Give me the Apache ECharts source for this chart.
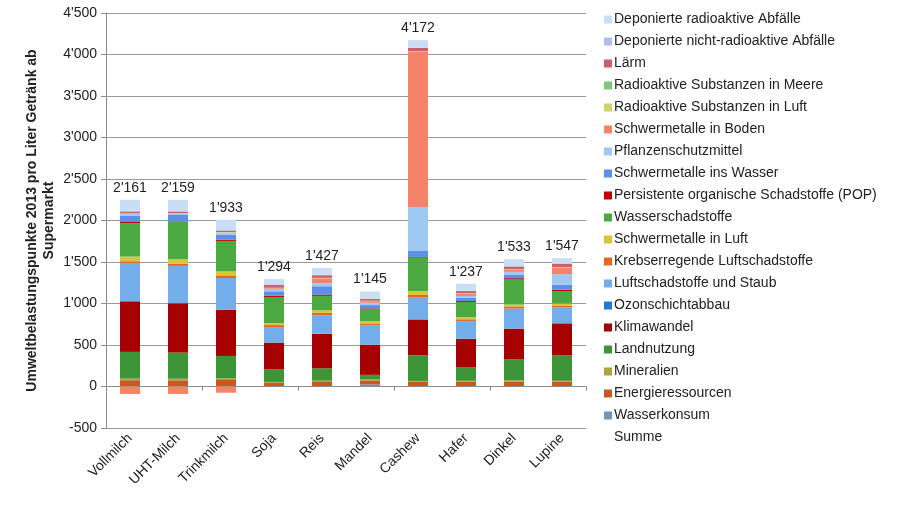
<!DOCTYPE html>
<html><head><meta charset="utf-8">
<script src="https://cdn.jsdelivr.net/npm/echarts@6/dist/echarts.min.js"></script>
<style>html,body{margin:0;padding:0;background:#fff}#c{width:900px;height:514px}</style>
</head><body><div id="c"></div>
<script>
var categories = ['Vollmilch','UHT-Milch','Trinkmilch','Soja','Reis','Mandel','Cashew','Hafer','Dinkel','Lupine'];
var yTicks = [-500,0,500,1000,1500,2000,2500,3000,3500,4000,4500];
// values (Umweltbelastungspunkte), stacked bottom -> top
var wasserkonsum   = [5,5,5,5,5,24,5,5,5,5];
var energie        = [70,69,73,40,50,48,52,52,56,56];
var mineralien     = [20,20,20,10,15,12,10,12,12,8];
var landnutzung    = [322,315,270,150,149,56,310,160,257,305];
var klimawandel    = [609,593,557,323,415,363,430,345,366,386];
var ozon           = [3,3,3,3,3,3,3,3,3,3];
var luftStaub      = [460,448,379,185,222,230,261,213,241,189];
var krebs          = [20,28,32,24,28,24,32,20,24,24];
var schwLuft       = [57,52,48,24,32,28,48,24,24,24];
var wasserSchad    = [400,448,367,315,173,141,402,185,301,145];
var pop            = [16,8,16,16,16,12,8,12,16,20];
var schwWasser     = [73,77,60,52,100,40,72,40,44,60];
var pflanzen       = [24,16,24,28,36,28,530,20,32,129];
var schwBoden      = [-90,-90,-75,10,60,20,1871,30,28,80];
var radLuft        = [5,5,5,3,3,3,3,3,3,3];
var radMeere       = [2,2,2,2,2,2,2,2,2,2];
var laerm          = [16,16,16,32,32,20,40,24,32,40];
var depNicht       = [16,16,16,10,5,5,5,5,5,5];
var depRadio       = [133,128,115,62,81,86,88,82,82,63];
var summe          = [2161,2159,1933,1294,1427,1145,4172,1237,1533,1547];

var seriesDefs = [
  ['Wasserkonsum', wasserkonsum, '#7193b4'],
  ['Energieressourcen', energie, '#c9581e'],
  ['Mineralien', mineralien, '#a7a53c'],
  ['Landnutzung', landnutzung, '#3d9538'],
  ['Klimawandel', klimawandel, '#a60000'],
  ['Ozonschichtabbau', ozon, '#1f78d8'],
  ['Luftschadstoffe und Staub', luftStaub, '#73aeea'],
  ['Krebserregende Luftschadstoffe', krebs, '#e8671e'],
  ['Schwermetalle in Luft', schwLuft, '#d6c63c'],
  ['Wasserschadstoffe', wasserSchad, '#4aa940'],
  ['Persistente organische Schadstoffe (POP)', pop, '#c00000'],
  ['Schwermetalle ins Wasser', schwWasser, '#5b8fe8'],
  ['Pflanzenschutzmittel', pflanzen, '#9fc8f2'],
  ['Schwermetalle in Boden', schwBoden, '#f5836a'],
  ['Radioaktive Substanzen in Luft', radLuft, '#cfd36c'],
  ['Radioaktive Substanzen in Meere', radMeere, '#7fc67c'],
  ['Lärm', laerm, '#c9606a'],
  ['Deponierte nicht-radioaktive Abfälle', depNicht, '#b3bce8'],
  ['Deponierte radioaktive Abfälle', depRadio, '#c8def4']
];

function fmt(n){
  var s = String(Math.abs(n)), out = '';
  while (s.length > 3){ out = "'" + s.slice(-3) + out; s = s.slice(0, -3); }
  return (n < 0 ? '-' : '') + s + out;
}

var series = seriesDefs.map(function(d){
  return {name:d[0], type:'bar', stack:'s', data:d[1], barWidth:20,
          itemStyle:{color:d[2]}, emphasis:{disabled:true}};
});
series.push({name:'Summe', type:'bar', stack:'s', barWidth:20,
  data: summe.map(function(){return 0;}),
  itemStyle:{color:'rgba(0,0,0,0)'},
  label:{show:true, position:'top', distance:5, color:'#222', fontSize:14,
         fontFamily:'Liberation Sans', formatter:function(p){return fmt(summe[p.dataIndex]);}}
});

var legendData = seriesDefs.slice().reverse().map(function(d){return {name:d[0], icon:'rect'};});
legendData.push({name:'Summe', icon:'none'});

var chart = echarts.init(document.getElementById('c'), null, {renderer:'canvas'});
chart.setOption({
  animation:false,
  textStyle:{fontFamily:'Liberation Sans'},
  grid:{left:106, right:314, top:13, bottom:86, containLabel:false},
  legend:{orient:'vertical', left:599, top:7, itemWidth:8, itemHeight:8, itemGap:7,
    data:legendData, selectedMode:false,
    textStyle:{fontSize:14, color:'#222', fontFamily:'Liberation Sans', lineHeight:15, padding:[0,0,0,-3]}},
  xAxis:[{type:'category', data:categories, position:'bottom',
    axisLine:{show:false, onZero:false}, axisTick:{show:false},
    axisLabel:{rotate:45, fontSize:14, color:'#222', margin:8, interval:0}},
   {type:'category', data:categories, position:'bottom',
    axisLine:{show:true, onZero:true, lineStyle:{color:'#8c8c8c'}},
    axisTick:{show:true, length:4, lineStyle:{color:'#8c8c8c'}, inside:false},
    axisLabel:{show:false}}],
  yAxis:{type:'value', min:-500, max:4500, interval:500,
    name:'Umweltbelastungspunkte 2013 pro Liter Getränk ab\nSupermarkt',
    nameLocation:'middle', nameGap:48, nameRotate:90, nameMoveOverlap:false,
    nameTextStyle:{fontSize:14, fontWeight:'bold', color:'#222', lineHeight:17, align:'center'},
    axisLine:{show:true, lineStyle:{color:'#8c8c8c'}},
    axisTick:{show:true, length:5, lineStyle:{color:'#8c8c8c'}},
    axisLabel:{fontSize:14, color:'#222', margin:9, formatter:function(v){return fmt(v);}},
    splitLine:{show:true, lineStyle:{color:'#9a9a9a', width:1}}},
  series:series
});
</script></body></html>
